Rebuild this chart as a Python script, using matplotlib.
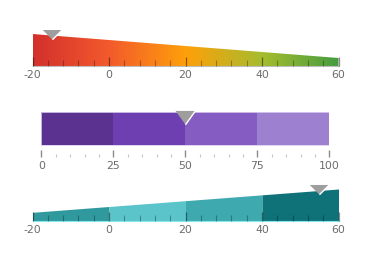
import numpy as np
import matplotlib.pyplot as plt
from matplotlib.colors import LinearSegmentedColormap

plt.rcParams['font.family'] = ['DejaVu Sans']
plt.rcParams['axes.unicode_minus'] = False

# gauge 1 : gradient range
g1_min, g1_max = -20, 60
g1_pointer = -15
g1_major = [-20, 0, 20, 40, 60]
g1_grad = ['#d3302c', '#f35a2c', '#fea00a', '#a6bc2e', '#459c40']

# gauge 2 : four flat ranges
g2_edges = [0, 25, 50, 75, 100]
g2_colors = ['#5b3290', '#6d3fb0', '#855dc2', '#9e80d0']
g2_pointer = 50

# gauge 3 : four tapered ranges
g3_edges = [-20, 0, 20, 40, 60]
g3_colors = ['#2f999e', '#5bc4ca', '#3fa9b0', '#0f7279']
g3_pointer = 55

W, H = 370, 266
fig = plt.figure(figsize=(W / 100, H / 100), dpi=100)
fig.patch.set_facecolor('white')


def px_axes(left, right, top, bottom):
    ax = fig.add_axes([left / W, 1 - bottom / H, (right - left) / W, (bottom - top) / H])
    ax.set_ylim(0, bottom - top)   # 1 unit = 1 pixel
    ax.patch.set_alpha(0)
    for s in ['top', 'left', 'right']:
        ax.spines[s].set_visible(False)
    ax.set_yticks([])
    return ax


def pointer(ax, x, y, shape):
    ax.scatter([x], [y], marker=shape, s=15 ** 2, color='#9e9e9e',
               edgecolors='white', linewidths=1.0, zorder=5, clip_on=False)


flat_tri = [(-1, 0.5), (1, 0.5), (0, -0.5)]
tall_tri = [(-1, 0.7), (1, 0.7), (0, -0.7)]
label_kw = dict(labelsize=7.8, labelcolor='#6b6b6b', pad=2.8)

# ---------- gauge 1
ax1 = px_axes(32.5, 338.5, 20, 66)
ax1.set_xlim(g1_min, g1_max)
xs = np.linspace(g1_min, g1_max, 50)
wid1 = np.interp(xs, [g1_min, g1_max], [32, 8])
poly = ax1.fill_between(xs, 0, wid1, color='none', lw=0)
cmap1 = LinearSegmentedColormap.from_list('g1', g1_grad)
im = ax1.imshow(np.linspace(0, 1, 256)[None, :], cmap=cmap1, aspect='auto',
                extent=[g1_min, g1_max, 0, 32], zorder=1)
im.set_clip_path(poly.get_paths()[0], ax1.transData)
ax1.set_ylim(0, 46)
ax1.set_xticks(g1_major)
ax1.set_xticks(np.arange(g1_min, g1_max + 1, 4), minor=True)
ax1.tick_params(axis='x', which='major', direction='in', length=6.5, width=0.9,
                color=(0, 0, 0, 0.45), **label_kw)
ax1.tick_params(axis='x', which='minor', direction='in', length=4, width=0.8,
                color=(0, 0, 0, 0.3))
ax1.spines['bottom'].set_color('#bdbdbd')
ax1.spines['bottom'].set_linewidth(0.8)
ax1.set_axisbelow(False)
pointer(ax1, g1_pointer, np.interp(g1_pointer, [g1_min, g1_max], [32, 8]) + 1.5, flat_tri)

# ---------- gauge 2
ax2 = px_axes(41.3, 329.3, 100, 157)
ax2.set_xlim(g2_edges[0], g2_edges[-1])
for lo, hi, c in zip(g2_edges[:-1], g2_edges[1:], g2_colors):
    ax2.fill_between([lo, hi], 12, 44.7, color=c, lw=0, zorder=1)
ax2.fill_between([g2_edges[0], g2_edges[-1]], 12, 44.7, color='none',
                 ec='#d9cdee', lw=0.6, zorder=2)
ax2.set_xticks(g2_edges)
ax2.set_xticks(np.arange(g2_edges[0], g2_edges[-1] + 1, 5), minor=True)
ax2.tick_params(axis='x', which='major', direction='in', length=5, width=1.0,
                color='#8a8a8a', **label_kw)
ax2.tick_params(axis='x', which='minor', direction='in', length=2.3, width=0.8,
                color='#c4c4c4')
ax2.spines['bottom'].set_visible(False)
pointer(ax2, g2_pointer, 40.5, tall_tri)

# ---------- gauge 3
ax3 = px_axes(32.5, 338.5, 175, 220.7)
ax3.set_xlim(g3_edges[0], g3_edges[-1])
ends3 = [8.4, 31.7]
for lo, hi, c in zip(g3_edges[:-1], g3_edges[1:], g3_colors):
    seg = np.array([lo, hi])
    ax3.fill_between(seg, 0, np.interp(seg, [g3_edges[0], g3_edges[-1]], ends3),
                     color=c, lw=0, zorder=1)
ax3.set_xticks(g3_edges)
ax3.set_xticks(np.arange(g3_edges[0], g3_edges[-1] + 1, 4), minor=True)
ax3.tick_params(axis='x', which='major', direction='in', length=6.5, width=0.9,
                color=(0, 0, 0, 0.45), **label_kw)
ax3.tick_params(axis='x', which='minor', direction='in', length=4, width=0.8,
                color=(0, 0, 0, 0.3))
ax3.spines['bottom'].set_color('#86e6ea')
ax3.set_axisbelow(False)
pointer(ax3, g3_pointer, np.interp(g3_pointer, [g3_edges[0], g3_edges[-1]], ends3) + 1.5, flat_tri)

fig.savefig('out.png', dpi=100)
